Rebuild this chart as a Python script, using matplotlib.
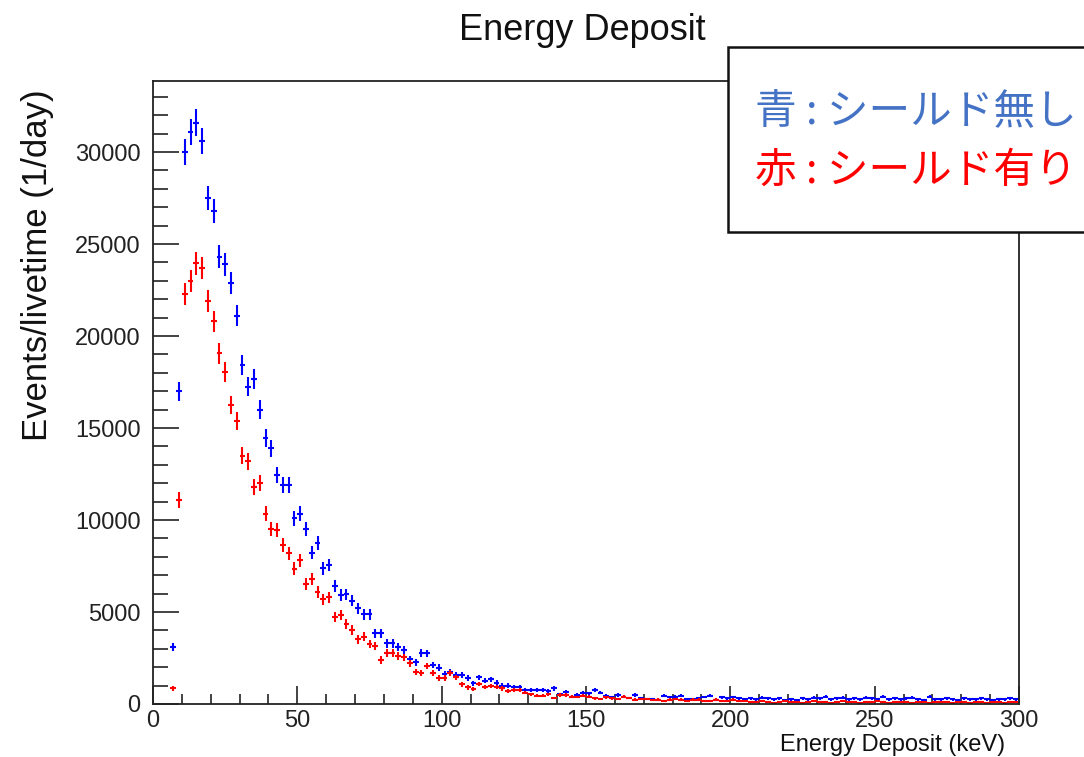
import numpy as np
import matplotlib
matplotlib.use("Agg")
import matplotlib.pyplot as plt
from matplotlib.patches import Rectangle
from matplotlib.ticker import MultipleLocator

plt.rcParams['font.family'] = ['Liberation Sans', 'DejaVu Sans']

# histogram contents (events/livetime), 2 keV bins, first filled bin centred at 7 keV
blue_counts = [3100, 17000, 30000, 31100, 31600, 30600, 27500, 26800, 24300, 23900,
               22900, 21100, 18400, 17250, 17650, 16000, 14450, 13900, 12450, 11900,
               11900, 10100, 10350, 9500, 8220, 8730, 7370, 7550, 6410, 5920,
               5960, 5610, 5200, 4870, 4870, 3840, 3840, 3300, 3300, 3080,
               2930, 2430, 2270, 2790, 2750, 2120, 1970, 1610, 1760, 1580,
               1600, 1420, 1140, 1450, 1270, 1340, 1160, 990, 990, 910,
               910, 760, 760, 760, 760, 700, 850, 530, 640, 400,
               490, 620, 580, 760, 620, 450, 360, 490, 380, 330,
               490, 330, 270, 270, 240, 450, 380, 400, 450, 270,
               270, 300, 380, 450, 240, 360, 300, 360, 300,
               250, 300, 250, 350, 300, 250, 300, 200, 250, 200,
               300, 250, 350, 300, 400, 250, 300, 350, 250, 300,
               250, 350, 300, 250, 400, 250, 300, 250, 300, 350,
               250, 200, 400, 250, 250, 300, 250, 200, 300, 250,
               250, 300, 250, 200, 250, 250, 300, 250]
red_counts = [850, 11100, 22300, 23000, 23950, 23700, 21900, 20800, 19050, 18050,
              16250, 15400, 13500, 13200, 11800, 12000, 10350, 9500, 9450, 8650,
              8180, 7350, 7800, 6500, 6780, 6100, 5690, 5800, 4750, 4840,
              4350, 4020, 3520, 3660, 3260, 3170, 2390, 2760, 2760, 2610,
              2540, 2210, 1760, 1700, 2070, 1670, 1400, 1400, 1670, 1450,
              1080, 900, 820, 1090, 910, 980, 910, 850, 720, 760,
              760, 620, 530, 450, 450, 530, 330, 490, 490, 400,
              380, 450, 400, 300, 270, 360, 300, 270, 400, 330,
              240, 270, 270, 200, 240, 180, 240, 270, 240, 180,
              240, 240, 150, 180, 240, 150, 180, 240, 180,
              150, 100, 120, 150, 100, 80, 120, 150, 100, 120,
              80, 100, 150, 100, 120, 80, 100, 150, 120, 100,
              80, 120, 100, 150, 100, 80, 100, 120, 100, 80,
              120, 100, 80, 100, 120, 100, 80, 100, 120, 80,
              100, 100, 80, 120, 100, 80, 100, 120]

bin_width = 2.0
first_center = 7.0
err_scale = 4.0  # counts -> rate scaling applied to sqrt(N) errors

blue_x = first_center + bin_width * np.arange(len(blue_counts))
red_x = first_center + bin_width * np.arange(len(red_counts))
blue_y = np.array(blue_counts, dtype=float)
red_y = np.array(red_counts, dtype=float)

fig = plt.figure(figsize=(10.84, 7.57), dpi=100)
ax = fig.add_axes([153/1084, 1 - 704/757, (1019-153)/1084, (704-81)/757])

ax.errorbar(blue_x, blue_y, xerr=bin_width/2, yerr=err_scale*np.sqrt(blue_y),
            fmt='none', ecolor='#0000ff', elinewidth=1.5, capsize=0)
ax.errorbar(red_x, red_y, xerr=bin_width/2, yerr=err_scale*np.sqrt(red_y),
            fmt='none', ecolor='#ff0000', elinewidth=1.5, capsize=0)

ax.set_xlim(0, 300)
ax.set_ylim(0, 33860)
ax.xaxis.set_major_locator(MultipleLocator(50))
ax.xaxis.set_minor_locator(MultipleLocator(10))
ax.yaxis.set_major_locator(MultipleLocator(5000))
ax.yaxis.set_minor_locator(MultipleLocator(1000))
ax.tick_params(axis='both', which='both', direction='in', colors='#222222',
               labelsize=17, width=1.2)
ax.tick_params(axis='y', which='major', length=19, pad=9)
ax.tick_params(axis='y', which='minor', length=10.5)
ax.tick_params(axis='x', which='major', length=13, pad=4)
ax.tick_params(axis='x', which='minor', length=7)
for s in ax.spines.values():
    s.set_linewidth(1.3)
    s.set_color('#222222')

fig.text(582/1084, 1 - 31/757, 'Energy Deposit', ha='center', va='center',
         fontsize=26, color='#111111')
fig.text(38/1084, 1 - 265/757, 'Events/livetime (1/day)', rotation=90,
         ha='center', va='center', fontsize=25, color='#111111')
fig.text(1005/1084, 1 - 745/757, 'Energy Deposit (keV)', ha='right',
         va='center', fontsize=17, color='#111111')

box = Rectangle((728/1084, 1 - 232/757), 0.4, (232-47)/757,
                transform=fig.transFigure, facecolor='white',
                edgecolor='#111111', linewidth=1.8, zorder=5)
fig.add_artist(box)
jp = ['Noto Sans CJK JP', 'DejaVu Sans']
fig.text(755/1084, 1 - 113/757, '青 : シールド無し', family=jp, fontsize=30,
         color='#4472c4', ha='left', va='center', zorder=6)
fig.text(755/1084, 1 - 171/757, '赤 : シールド有り', family=jp, fontsize=30,
         color='#ff0000', ha='left', va='center', zorder=6)

fig.savefig('out.png', dpi=100)
